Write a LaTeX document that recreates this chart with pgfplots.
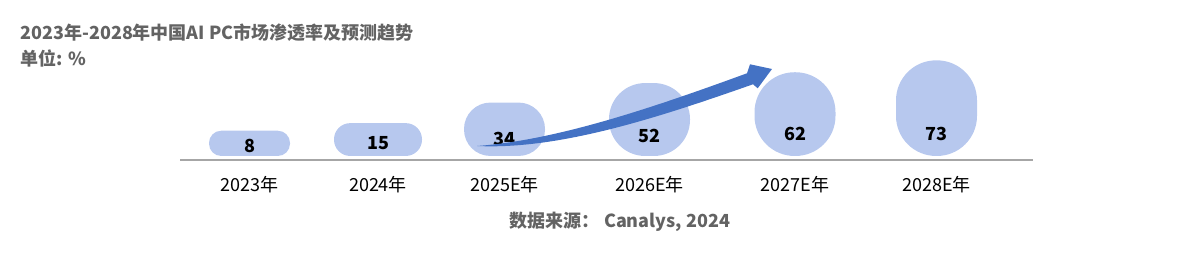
\documentclass[border=0pt]{standalone}
\usepackage{fontspec}
\setmainfont{Noto Sans CJK SC}
\usepackage{pgfplots}
\pgfplotsset{compat=1.18}
\usepackage{pgfplotstable}
\definecolor{barblue}{HTML}{B7C8EE}
\definecolor{arrowblue}{HTML}{4472C4}
\definecolor{titlegray}{HTML}{636363}
\definecolor{axisgray}{HTML}{A6A6A6}

\pgfplotstableread{
x v ly
249.5 8 9.2
378 15 12.0
504.5 34 16.0
649.5 52 18.5
795 62 19.9
936.5 73 19.9
}\data

\begin{document}
\begin{tikzpicture}[x=0.5pt,y=0.5pt]
\useasboundingbox (0,0) rectangle (1200,265);
\node[anchor=west, inner sep=0pt, text=titlegray, font=\bfseries\fontsize{9}{11}\selectfont] at (20,232) {2023年-2028年中国AI PC市场渗透率及预测趋势};
\node[anchor=west, inner sep=0pt, text=titlegray, font=\bfseries\fontsize{9}{11}\selectfont] at (20,207) {单位: \%};
\begin{axis}[
  at={(180,97)}, anchor=south west,
  scale only axis, width=426.5pt, height=59.5pt,
  xmin=180, xmax=1033, ymin=-3.69, ymax=106.2,
  axis x line=bottom, axis y line=none,
  x axis line style={draw=axisgray, line width=1pt, -},
  xtick={249.5,378,504.5,649.5,795,936.5},
  xticklabels={2023年,2024年,2025E年,2026E年,2027E年,2028E年},
  major tick length=0pt,
  xticklabel style={inner sep=0pt, yshift=-8.1pt, font=\fontsize{9}{11}\selectfont, text=black},
  clip=false,
]
\addplot[ybar, bar shift=0pt, bar width=40.5pt, fill=barblue, draw=none, rounded corners=6.1pt, restrict x to domain=248:251]
  table[x=x, y expr=\thisrow{v}+15.3] {\data};
\addplot[ybar, bar shift=0pt, bar width=44pt, fill=barblue, draw=none, rounded corners=8.1pt, restrict x to domain=377:379]
  table[x=x, y expr=\thisrow{v}+15.3] {\data};
\addplot[ybar, bar shift=0pt, bar width=40.5pt, fill=barblue, draw=none, rounded corners=13.2pt, restrict x to domain=503:506]
  table[x=x, y expr=\thisrow{v}+15.3] {\data};
\addplot[ybar, bar shift=0pt, bar width=40.5pt, fill=barblue, draw=none, rounded corners=18pt, restrict x to domain=648:651]
  table[x=x, y expr=\thisrow{v}+15.3] {\data};
\addplot[ybar, bar shift=0pt, bar width=40.5pt, fill=barblue, draw=none, rounded corners=20pt, restrict x to domain=794:796]
  table[x=x, y expr=\thisrow{v}+15.3] {\data};
\addplot[ybar, bar shift=0pt, bar width=40.5pt, fill=barblue, draw=none, rounded corners=20pt, restrict x to domain=935:938]
  table[x=x, y expr=\thisrow{v}+15.3] {\data};
\addplot[draw=none, mark=none, point meta=explicit,
  nodes near coords={\pgfmathprintnumber[assume math mode=true]{\pgfplotspointmeta}},
  nodes near coords style={anchor=center, inner sep=0pt, font=\bfseries\fontsize{9}{11}\selectfont, text=black}]
  table[x=x, y=ly, meta=v] {\data};
\end{axis}
% trend arrow (decoration), pixel coordinates with y = 265 - ypx
\fill[arrowblue] (477,119) .. controls (560,125) and (660,160) .. (747,191.7)
  -- (750,200.7) -- (772,196) -- (757.7,176.7) -- (753,180.7)
  .. controls (660,148) and (560,115) .. cycle;
\node[inner sep=0pt, text=titlegray, font=\bfseries\fontsize{9}{11}\selectfont] at (620,43) {数据来源：\ Canalys, 2024};
\end{tikzpicture}
\end{document}
